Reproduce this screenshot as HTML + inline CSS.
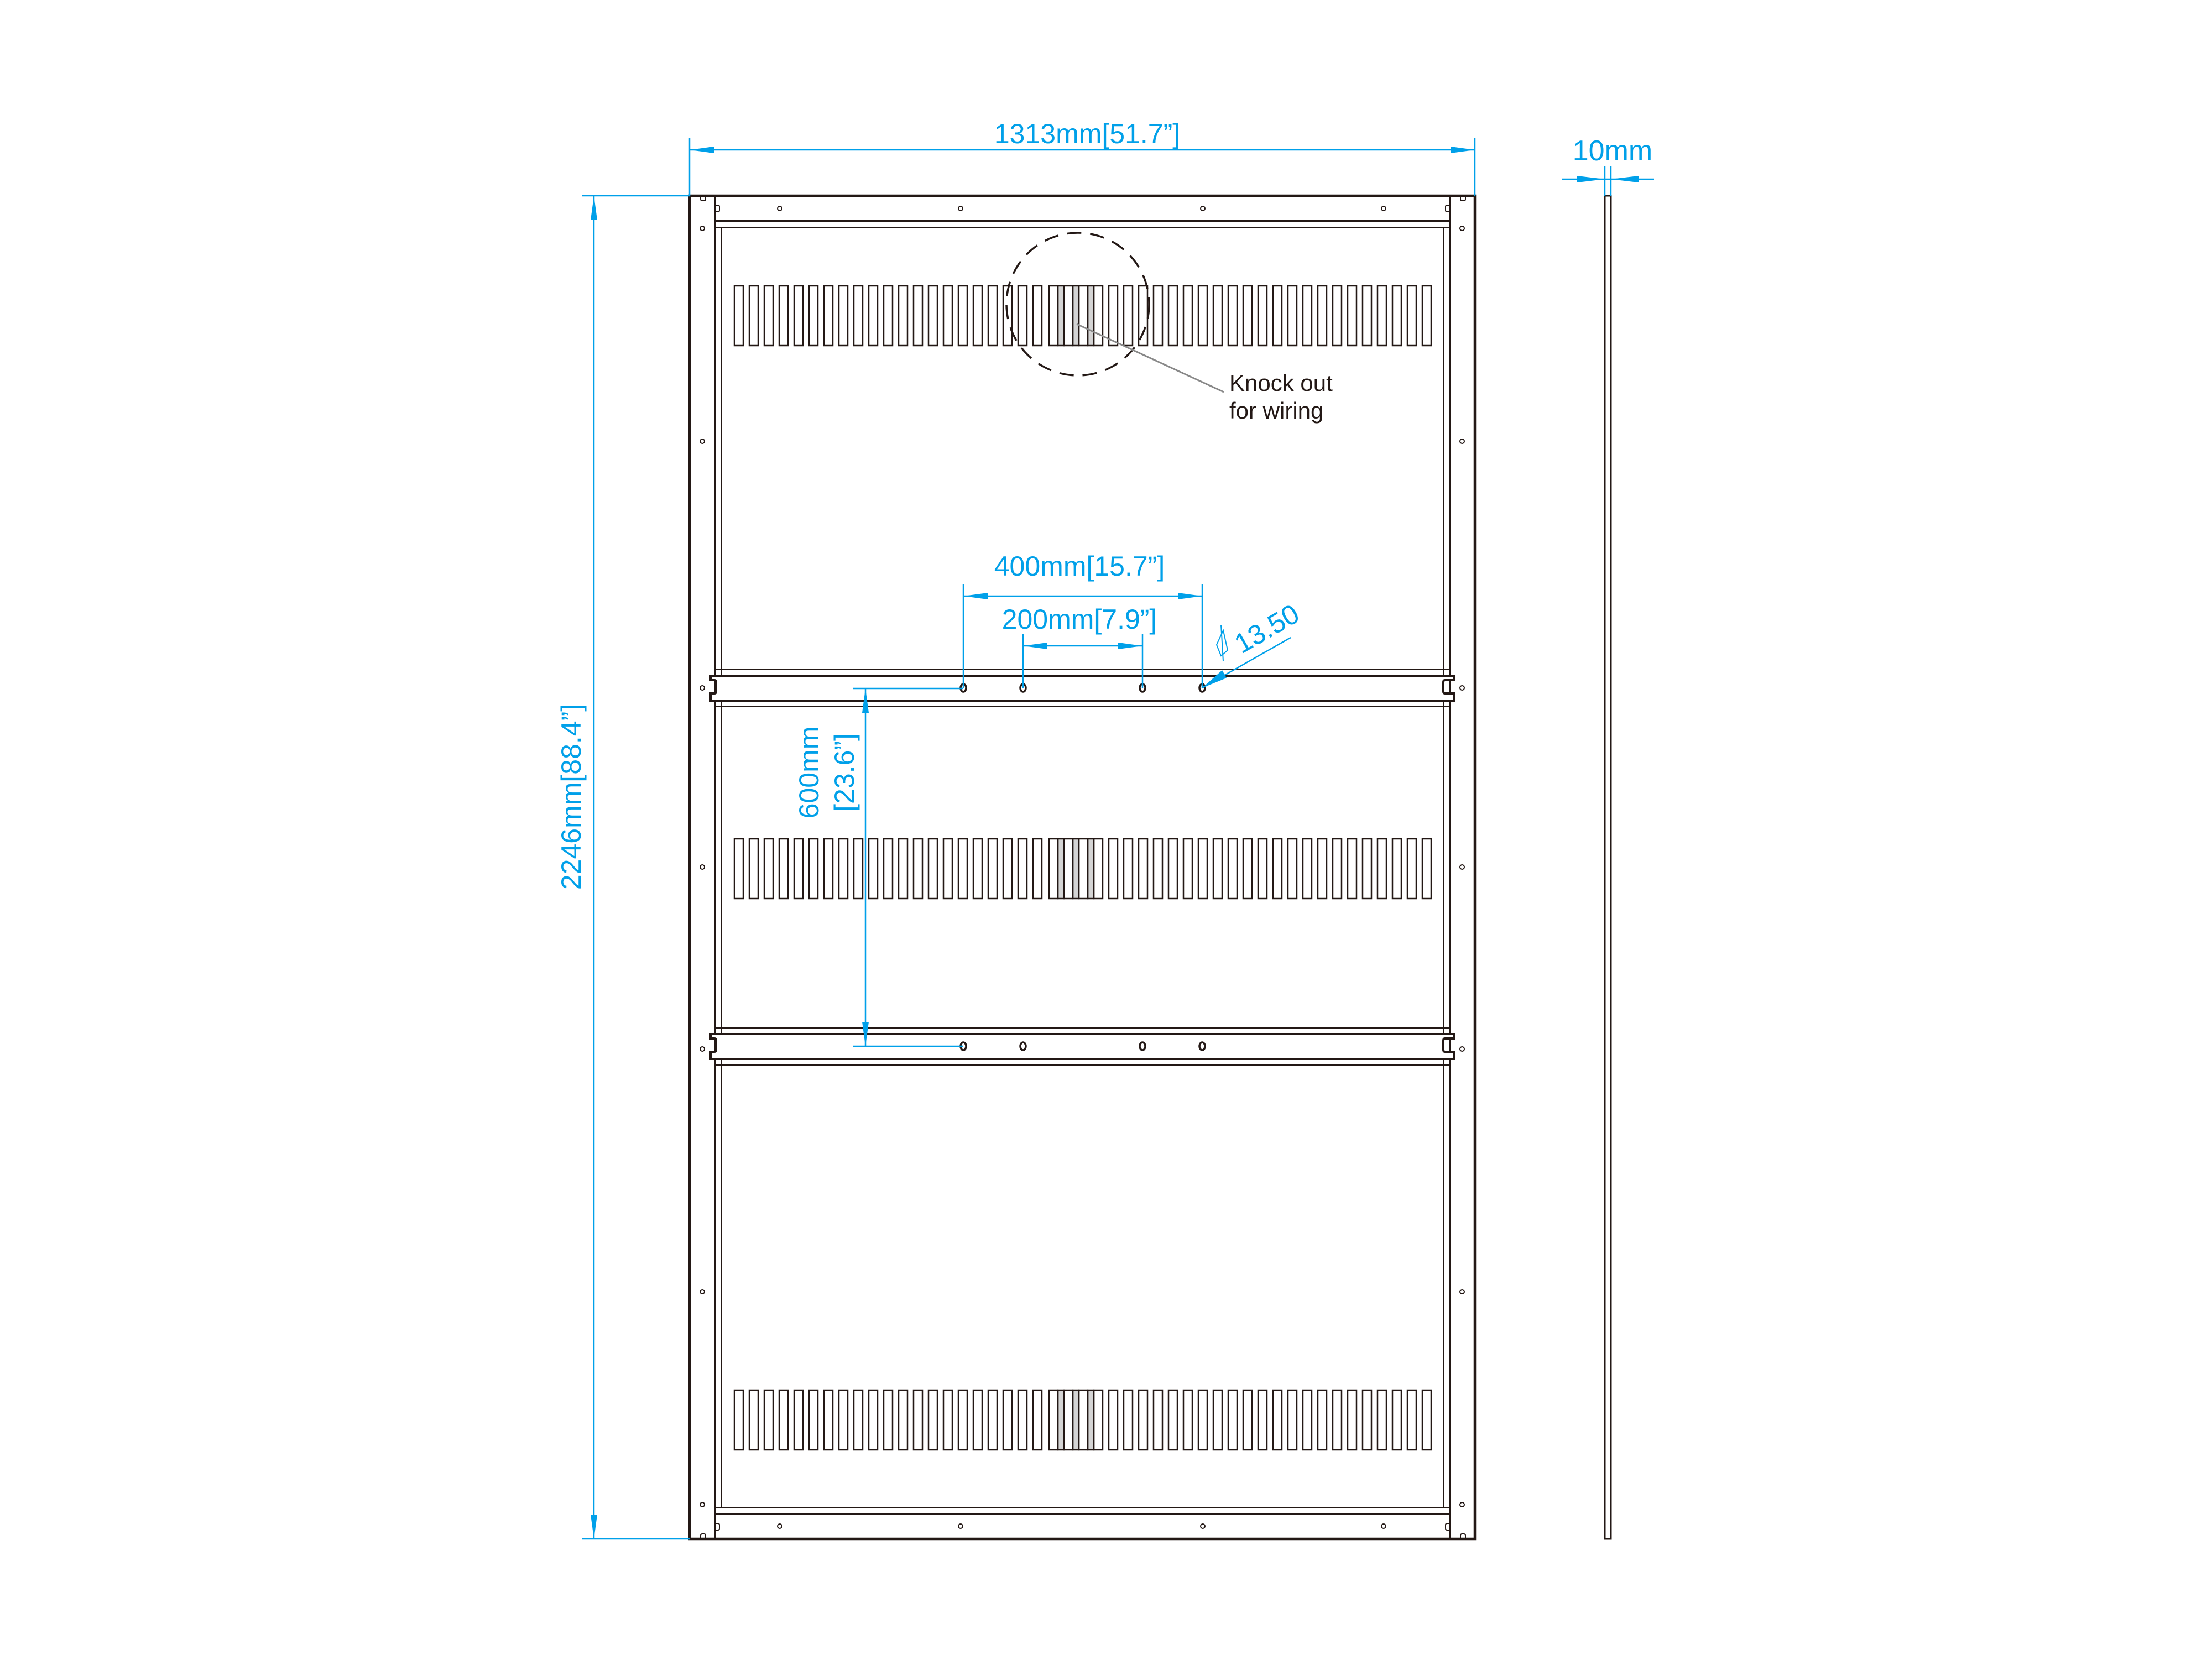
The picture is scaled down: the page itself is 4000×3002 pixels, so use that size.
<!DOCTYPE html>
<html><head><meta charset="utf-8"><style>html,body{margin:0;padding:0;background:#fff}svg{display:block}</style></head>
<body>
<svg width="4000" height="3002" viewBox="0 0 4000 3002" xmlns="http://www.w3.org/2000/svg">
<defs>
<g id="row" fill="none" stroke="#231815" stroke-width="2.5">
<rect x="1328" y="0" width="16" height="108"/><rect x="1355" y="0" width="16" height="108"/><rect x="1382" y="0" width="16" height="108"/><rect x="1409" y="0" width="16" height="108"/><rect x="1436" y="0" width="16" height="108"/><rect x="1463" y="0" width="16" height="108"/><rect x="1490" y="0" width="16" height="108"/><rect x="1517" y="0" width="16" height="108"/><rect x="1544" y="0" width="16" height="108"/><rect x="1571" y="0" width="16" height="108"/><rect x="1598" y="0" width="16" height="108"/><rect x="1625" y="0" width="16" height="108"/><rect x="1652" y="0" width="16" height="108"/><rect x="1679" y="0" width="16" height="108"/><rect x="1706" y="0" width="16" height="108"/><rect x="1733" y="0" width="16" height="108"/><rect x="1760" y="0" width="16" height="108"/><rect x="1787" y="0" width="16" height="108"/><rect x="1814" y="0" width="16" height="108"/><rect x="1841" y="0" width="16" height="108"/><rect x="1868" y="0" width="16" height="108"/>
<rect x="1913" y="0" width="11" height="108" fill="#d4d4d4"/><rect x="1940" y="0" width="11" height="108" fill="#d4d4d4"/><rect x="1967" y="0" width="11" height="108" fill="#d4d4d4"/>
<rect x="1897" y="0" width="16" height="108"/><rect x="1924" y="0" width="16" height="108"/><rect x="1951" y="0" width="16" height="108"/><rect x="1978" y="0" width="16" height="108"/>
<rect x="2005" y="0" width="16" height="108"/><rect x="2032" y="0" width="16" height="108"/><rect x="2059" y="0" width="16" height="108"/><rect x="2086" y="0" width="16" height="108"/><rect x="2113" y="0" width="16" height="108"/><rect x="2140" y="0" width="16" height="108"/><rect x="2167" y="0" width="16" height="108"/><rect x="2194" y="0" width="16" height="108"/><rect x="2221" y="0" width="16" height="108"/><rect x="2248" y="0" width="16" height="108"/><rect x="2275" y="0" width="16" height="108"/><rect x="2302" y="0" width="16" height="108"/><rect x="2329" y="0" width="16" height="108"/><rect x="2356" y="0" width="16" height="108"/><rect x="2383" y="0" width="16" height="108"/><rect x="2410" y="0" width="16" height="108"/><rect x="2437" y="0" width="16" height="108"/><rect x="2464" y="0" width="16" height="108"/><rect x="2491" y="0" width="16" height="108"/><rect x="2518" y="0" width="16" height="108"/><rect x="2545" y="0" width="16" height="108"/><rect x="2572" y="0" width="16" height="108"/>
</g>
<g id="bar" fill="none" stroke="#231815">
<line x1="1293" y1="-33" x2="2622" y2="-33" stroke-width="2"/>
<line x1="1293" y1="34" x2="2622" y2="34" stroke-width="2"/>
<path d="M1293 -22 H1285 V-14 H1292 Q1295 -14 1295 -10 V6 Q1295 10 1292 10 H1285 V23 H2630 V10 H2613 Q2610 10 2610 6 V-10 Q2610 -14 2613 -14 H2630 V-22 Z" fill="#fff" stroke-width="4"/>
<line x1="1304" y1="-22" x2="2611" y2="-22" stroke-width="3"/>
</g>
<g id="holes" fill="none" stroke="#231815" stroke-width="3.5">
<ellipse cx="1742" cy="0" rx="5" ry="7"/><ellipse cx="1850" cy="0" rx="5" ry="7"/><ellipse cx="2066" cy="0" rx="5" ry="7"/><ellipse cx="2174" cy="0" rx="5" ry="7"/>
</g>
</defs>

<g fill="none" stroke="#231815">
<rect x="1247" y="354" width="1420" height="2429" stroke-width="4.5"/>
<line x1="1293" y1="354" x2="1293" y2="2783" stroke-width="4"/>
<line x1="2622" y1="354" x2="2622" y2="2783" stroke-width="4"/>
<line x1="1293" y1="400" x2="2622" y2="400" stroke-width="4"/>
<line x1="1293" y1="411" x2="2622" y2="411" stroke-width="2"/>
<line x1="1293" y1="2738" x2="2622" y2="2738" stroke-width="4"/>
<line x1="1293" y1="2727" x2="2622" y2="2727" stroke-width="2"/>
<line x1="1304" y1="411" x2="1304" y2="2727" stroke-width="2"/>
<line x1="2611" y1="411" x2="2611" y2="2727" stroke-width="2"/>
</g>
<use href="#bar" y="1244"/>
<use href="#bar" y="1892"/>
<use href="#holes" y="1244"/>
<use href="#holes" y="1892"/>
<use href="#row" y="517"/>
<use href="#row" y="1517"/>
<use href="#row" y="2514"/>

<g fill="none" stroke="#231815" stroke-width="2">
<circle cx="1270" cy="413" r="4"/><circle cx="1270" cy="798" r="4"/><circle cx="1270" cy="1244" r="4"/><circle cx="1270" cy="1568" r="4"/><circle cx="1270" cy="1897" r="4"/><circle cx="1270" cy="2336" r="4"/><circle cx="1270" cy="2721" r="4"/>
<circle cx="2644" cy="413" r="4"/><circle cx="2644" cy="798" r="4"/><circle cx="2644" cy="1244" r="4"/><circle cx="2644" cy="1568" r="4"/><circle cx="2644" cy="1897" r="4"/><circle cx="2644" cy="2336" r="4"/><circle cx="2644" cy="2721" r="4"/>
<circle cx="1410" cy="377" r="4"/><circle cx="1737" cy="377" r="4"/><circle cx="2175" cy="377" r="4"/><circle cx="2502" cy="377" r="4"/>
<circle cx="1410" cy="2760" r="4"/><circle cx="1737" cy="2760" r="4"/><circle cx="2175" cy="2760" r="4"/><circle cx="2502" cy="2760" r="4"/>
<path d="M1267 356 V360 Q1267 363 1270 363 H1273 Q1276 363 1276 360 V356"/>
<path d="M2641 356 V360 Q2641 363 2644 363 H2647 Q2650 363 2650 360 V356"/>
<path d="M1267 2781 V2777 Q1267 2774 1270 2774 H1273 Q1276 2774 1276 2777 V2781"/>
<path d="M2641 2781 V2777 Q2641 2774 2644 2774 H2647 Q2650 2774 2650 2777 V2781"/>
<path d="M1295 371 H1298 Q1301 371 1301 374 V380 Q1301 383 1298 383 H1295"/>
<path d="M2620 371 H2617 Q2614 371 2614 374 V380 Q2614 383 2617 383 H2620"/>
<path d="M1295 2755 H1298 Q1301 2755 1301 2758 V2764 Q1301 2767 1298 2767 H1295"/>
<path d="M2620 2755 H2617 Q2614 2755 2614 2758 V2764 Q2614 2767 2617 2767 H2620"/>
</g>

<rect x="2902" y="354" width="11" height="2429" fill="#fff" stroke="#231815" stroke-width="3"/>

<circle cx="1949" cy="550" r="129" fill="none" stroke="#231815" stroke-width="3.5" stroke-dasharray="26 16"/>
<line x1="1947" y1="586" x2="2213" y2="709" stroke="#888" stroke-width="3"/>
<g font-family="'Liberation Sans', Arial, sans-serif" fill="#231815" font-size="42">
<text x="2223" y="707">Knock out</text>
<text x="2223" y="757">for wiring</text>
</g>

<g stroke="#00a0e9" stroke-width="2.5" fill="none">
<line x1="1247" y1="249" x2="1247" y2="354"/>
<line x1="2667" y1="249" x2="2667" y2="354"/>
<line x1="1247" y1="271" x2="2667" y2="271"/>
<line x1="1052" y1="354" x2="1247" y2="354"/>
<line x1="1052" y1="2783" x2="1247" y2="2783"/>
<line x1="1074" y1="354" x2="1074" y2="2783"/>
<line x1="2902" y1="300" x2="2902" y2="354"/>
<line x1="2913" y1="300" x2="2913" y2="354"/>
<line x1="2825" y1="324" x2="2991" y2="324"/>
<line x1="1742" y1="1056" x2="1742" y2="1244"/>
<line x1="2174" y1="1056" x2="2174" y2="1244"/>
<line x1="1742" y1="1078" x2="2174" y2="1078"/>
<line x1="1850" y1="1146" x2="1850" y2="1244"/>
<line x1="2066" y1="1146" x2="2066" y2="1244"/>
<line x1="1850" y1="1168" x2="2066" y2="1168"/>
<line x1="1543" y1="1245" x2="1565" y2="1245"/>
<line x1="1565" y1="1245" x2="1742" y2="1245"/>
<line x1="1543" y1="1892" x2="1742" y2="1892"/>
<line x1="1565" y1="1245" x2="1565" y2="1892"/>
<line x1="2174" y1="1244" x2="2334" y2="1153"/>
<path d="M2212 1140 L2200 1166 L2208 1186 L2220 1176 Z" stroke-width="2"/>
<line x1="2208" y1="1130" x2="2212" y2="1196" stroke-width="2"/>
</g>
<g fill="#00a0e9">
<path d="M1247 271 L1291 265 L1291 277 Z"/>
<path d="M2667 271 L2623 265 L2623 277 Z"/>
<path d="M1074 354 L1068 398 L1080 398 Z"/>
<path d="M1074 2783 L1068 2739 L1080 2739 Z"/>
<path d="M2902 324 L2852 318 L2852 330 Z"/>
<path d="M2913 324 L2963 318 L2963 330 Z"/>
<path d="M1742 1078 L1786 1072 L1786 1084 Z"/>
<path d="M2174 1078 L2130 1072 L2130 1084 Z"/>
<path d="M1850 1168 L1894 1162 L1894 1174 Z"/>
<path d="M2066 1168 L2022 1162 L2022 1174 Z"/>
<path d="M1565 1245 L1559 1289 L1571 1289 Z"/>
<path d="M1565 1892 L1559 1848 L1571 1848 Z"/>
<path d="M2174 1244 L2210 1212 L2218 1226 Z"/>
</g>
<g font-family="'Liberation Sans', Arial, sans-serif" fill="#00a0e9" font-size="50" text-anchor="middle">
<text x="1966" y="259">1313mm[51.7”]</text>
<text x="2916" y="290" font-size="52">10mm</text>
<text x="1952" y="1041">400mm[15.7”]</text>
<text x="1952" y="1137">200mm[7.9”]</text>
<text transform="translate(1050 1441) rotate(-90)">2246mm[88.4”]</text>
<text transform="translate(1480 1397) rotate(-90)">600mm</text>
<text transform="translate(1544 1397) rotate(-90)">[23.6”]</text>
<text transform="translate(2245 1183) rotate(-30)" text-anchor="start">13.50</text>
</g>
</svg>
</body></html>
